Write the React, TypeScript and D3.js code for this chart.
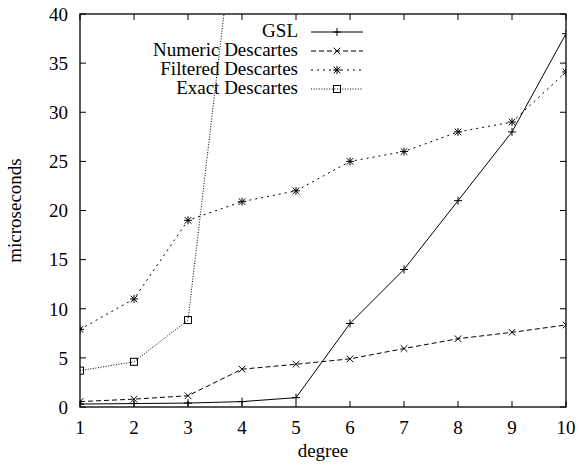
import React from "react";
import * as d3 from "d3";

const degrees = [1, 2, 3, 4, 5, 6, 7, 8, 9, 10];
const gslValues = [0.3, 0.35, 0.4, 0.55, 0.95, 8.5, 14, 21, 28, 38];
const numericValues = [0.55, 0.8, 1.15, 3.85, 4.35, 4.9, 5.95, 6.95, 7.6, 8.35];
const filteredValues = [7.9, 11, 19, 20.9, 22, 25, 26, 28, 29, 34.1];
// exact descartes leaves the plot after degree 3
const exactDegrees = [1, 2, 3, 4];
const exactValues = [3.7, 4.6, 8.85, 55.6];
const yTicks = [0, 5, 10, 15, 20, 25, 30, 35, 40];

const width = 579;
const height = 465;
const margin = { top: 14, right: 13, bottom: 58, left: 80 };
const font = "'Liberation Serif', 'Times New Roman', serif";
const fontSize = 19;

const series = [
  { name: "GSL", xs: degrees, ys: gslValues, dash: "none", marker: "plus" },
  { name: "Numeric Descartes", xs: degrees, ys: numericValues, dash: "5 3", marker: "cross" },
  { name: "Filtered Descartes", xs: degrees, ys: filteredValues, dash: "2 4", marker: "star" },
  { name: "Exact Descartes", xs: exactDegrees, ys: exactValues, dash: "1 1.6", marker: "box" },
];

function Marker({ type, x, y }: { type: string; x: number; y: number }) {
  const s = 4;
  const c = 3.3;
  const plus = `M${x - s},${y}H${x + s}M${x},${y - s}V${y + s}`;
  const cross = `M${x - c},${y - c}L${x + c},${y + c}M${x - c},${y + c}L${x + c},${y - c}`;
  if (type === "plus") return <path d={plus} stroke="#000" strokeWidth={1} />;
  if (type === "cross") return <path d={cross} stroke="#000" strokeWidth={1} />;
  if (type === "star") return <path d={plus + cross} stroke="#000" strokeWidth={1} />;
  return <rect x={x - 3.5} y={y - 3.5} width={7} height={7} fill="none" stroke="#000" strokeWidth={1} />;
}

export default function App() {
  const plotW = width - margin.left - margin.right;
  const plotH = height - margin.top - margin.bottom;

  const x = d3.scaleLinear().domain([1, 10]).range([margin.left, margin.left + plotW]);
  const y = d3.scaleLinear().domain([0, 40]).range([margin.top + plotH, margin.top]);

  const legendRows = [37, 56, 75, 94];

  return (
    <div style={{ position: "absolute", left: 0, top: 0 }}>
      <svg width={width} height={height} style={{ display: "block", background: "#fff" }}>
        <defs>
          <clipPath id="plotClip">
            <rect x={margin.left} y={margin.top} width={plotW} height={plotH} />
          </clipPath>
        </defs>

        {/* ticks, mirrored on all sides */}
        {yTicks.map((t) => (
          <g key={"y" + t}>
            <line x1={margin.left} x2={margin.left + 6} y1={y(t)} y2={y(t)} stroke="#000" />
            <line x1={margin.left + plotW} x2={margin.left + plotW - 6} y1={y(t)} y2={y(t)} stroke="#000" />
            <text x={68} y={y(t) + 6.8} textAnchor="end" fontFamily={font} fontSize={fontSize}>
              {t}
            </text>
          </g>
        ))}
        {degrees.map((d) => (
          <g key={"x" + d}>
            <line x1={x(d)} x2={x(d)} y1={margin.top + plotH} y2={margin.top + plotH - 6} stroke="#000" />
            <line x1={x(d)} x2={x(d)} y1={margin.top} y2={margin.top + 6} stroke="#000" />
            <text x={x(d)} y={434} textAnchor="middle" fontFamily={font} fontSize={fontSize}>
              {d}
            </text>
          </g>
        ))}

        <text x={margin.left + plotW / 2} y={457} textAnchor="middle" fontFamily={font} fontSize={fontSize}>
          degree
        </text>
        <text
          transform={`translate(21, ${margin.top + plotH / 2}) rotate(-90)`}
          textAnchor="middle"
          fontFamily={font}
          fontSize={fontSize}
        >
          microseconds
        </text>

        <g clipPath="url(#plotClip)">
          {series.map((s) => {
            const pts = s.xs.map((d, i) => [x(d), y(s.ys[i])] as [number, number]);
            const line = d3.line();
            return (
              <g key={s.name}>
                <path d={line(pts) || ""} fill="none" stroke="#000" strokeWidth={1} strokeDasharray={s.dash} />
                {pts.map((p, i) => (
                  <Marker key={i} type={s.marker} x={p[0]} y={p[1]} />
                ))}
              </g>
            );
          })}
        </g>

        {/* key */}
        {series.map((s, i) => (
          <g key={"k" + s.name}>
            <text x={298} y={legendRows[i]} textAnchor="end" fontFamily={font} fontSize={fontSize}>
              {s.name}
            </text>
            <line x1={311} x2={363} y1={legendRows[i] - 5} y2={legendRows[i] - 5} stroke="#000" strokeDasharray={s.dash} />
            <Marker type={s.marker} x={337} y={legendRows[i] - 5} />
          </g>
        ))}

        <rect x={margin.left} y={margin.top} width={plotW} height={plotH} fill="none" stroke="#000" strokeWidth={1.3} />
      </svg>
    </div>
  );
}
